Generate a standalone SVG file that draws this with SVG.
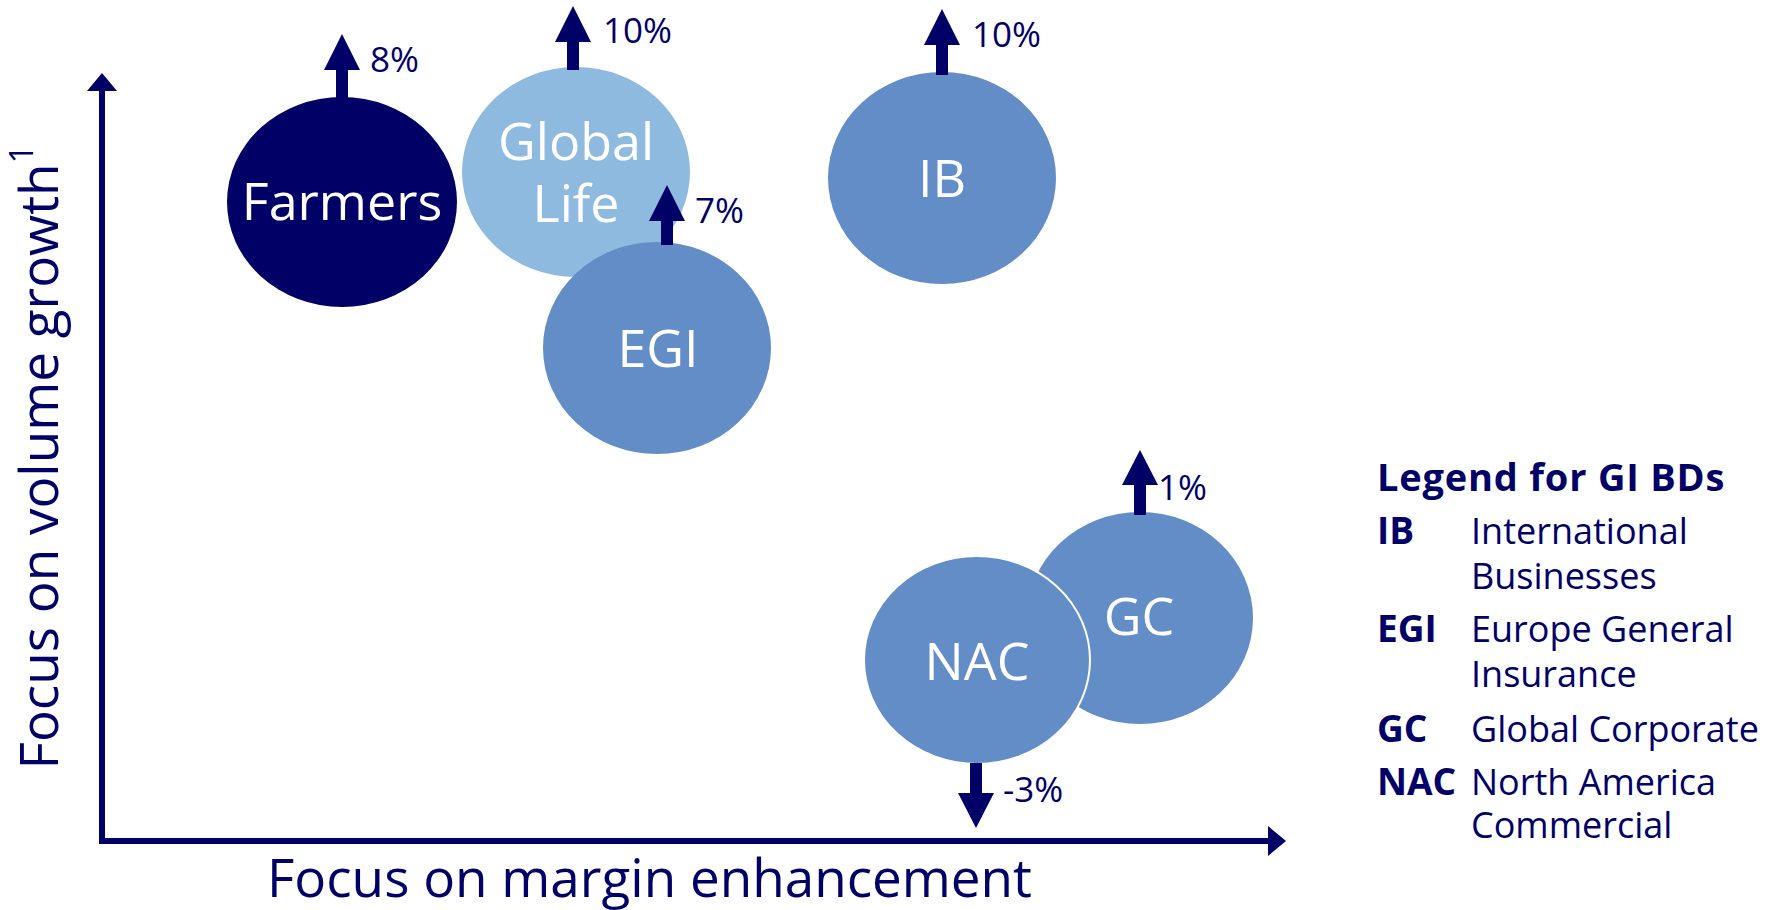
<svg xmlns="http://www.w3.org/2000/svg" width="1784" height="910" viewBox="0 0 1784 910">
<style>
text{font-family:"Open Sans","Noto Sans","Liberation Sans",sans-serif;}
.lbl{fill:#ffffff;font-size:52px;text-anchor:middle;}
.pct{fill:#000066;font-size:35px;}
.leg{fill:#000066;font-size:36px;}
.legb{fill:#000066;font-size:37px;font-weight:bold;}
.ttl{fill:#000066;font-size:38px;font-weight:bold;letter-spacing:0.8px;}
.ax{fill:#000066;font-size:53px;}
.navy{fill:#000066;}
.mid{fill:#628dc6;}
.light{fill:#8fbae0;}
.arr{fill:#000066;}
</style>
<rect width="1784" height="910" fill="#ffffff"/>
<g id="axes">
<rect x="99" y="88" width="6" height="756" class="arr"/>
<polygon points="102,73 117,91 87,91" class="arr"/>
<rect x="99" y="838" width="1172" height="6" class="arr"/>
<polygon points="1286,841 1268,826 1268,856" class="arr"/>
<text class="ax" x="267" y="897">Focus on margin enhancement</text>
<text class="ax" font-size="58" transform="translate(58,457) rotate(-90)" text-anchor="middle">Focus on volume growth<tspan font-size="33" dy="-25">1</tspan></text>
</g>
<g id="node-farmers">
<ellipse cx="342" cy="202" rx="115" ry="105" class="navy"/>
<text class="lbl" x="342" y="220">Farmers</text>
</g>
<g id="node-globallife">
<ellipse cx="576" cy="172" rx="114" ry="105" class="light"/>
<text class="lbl" x="576" y="160">Global</text>
<text class="lbl" x="576" y="222">Life</text>
</g>
<g id="node-egi">
<ellipse cx="657" cy="348" rx="114" ry="106" class="mid"/>
<text class="lbl" x="658" y="367">EGI</text>
</g>
<g id="node-ib">
<ellipse cx="942" cy="178" rx="114" ry="106" class="mid"/>
<text class="lbl" x="942" y="197">IB</text>
</g>
<g id="node-gc">
<ellipse cx="1140" cy="618" rx="113" ry="106" class="mid"/>
<text class="lbl" x="1139" y="635">GC</text>
</g>
<g id="node-nac">
<ellipse cx="977" cy="660" rx="113" ry="104" class="mid" stroke="#ffffff" stroke-width="2"/>
<text class="lbl" x="977" y="680">NAC</text>
</g>
<g id="connectors">
<polygon points="342,34 360,70 348,70 348,100 336,100 336,70 324,70" class="arr"/>
<polygon points="573,6 591,42 579,42 579,70 567,70 567,42 555,42" class="arr"/>
<polygon points="667,185 685,221 673,221 673,245 661,245 661,221 649,221" class="arr"/>
<polygon points="942,9 960,45 948,45 948,75 936,75 936,45 924,45" class="arr"/>
<polygon points="1140,450 1158,485 1146,485 1146,515 1134,515 1134,485 1122,485" class="arr"/>
<polygon points="976,828 994,793 982,793 982,763 970,763 970,793 958,793" class="arr"/>
</g>
<g id="growth-labels">
<text class="pct" x="370" y="72">8%</text>
<text class="pct" x="603" y="43">10%</text>
<text class="pct" x="695" y="223">7%</text>
<text class="pct" x="972" y="47">10%</text>
<text class="pct" x="1158" y="500">1%</text>
<text class="pct" x="1003" y="802">-3%</text>
</g>
<g id="legend">
<text class="ttl" x="1377" y="491">Legend for GI BDs</text>
<text class="legb" x="1377" y="544">IB</text>
<text class="leg" x="1471" y="544">International</text>
<text class="leg" x="1471" y="589">Businesses</text>
<text class="legb" x="1377" y="642">EGI</text>
<text class="leg" x="1471" y="642">Europe General</text>
<text class="leg" x="1471" y="687">Insurance</text>
<text class="legb" x="1377" y="742">GC</text>
<text class="leg" x="1471" y="742">Global Corporate</text>
<text class="legb" x="1377" y="795">NAC</text>
<text class="leg" x="1471" y="795">North America</text>
<text class="leg" x="1471" y="838">Commercial</text>
</g>
</svg>
